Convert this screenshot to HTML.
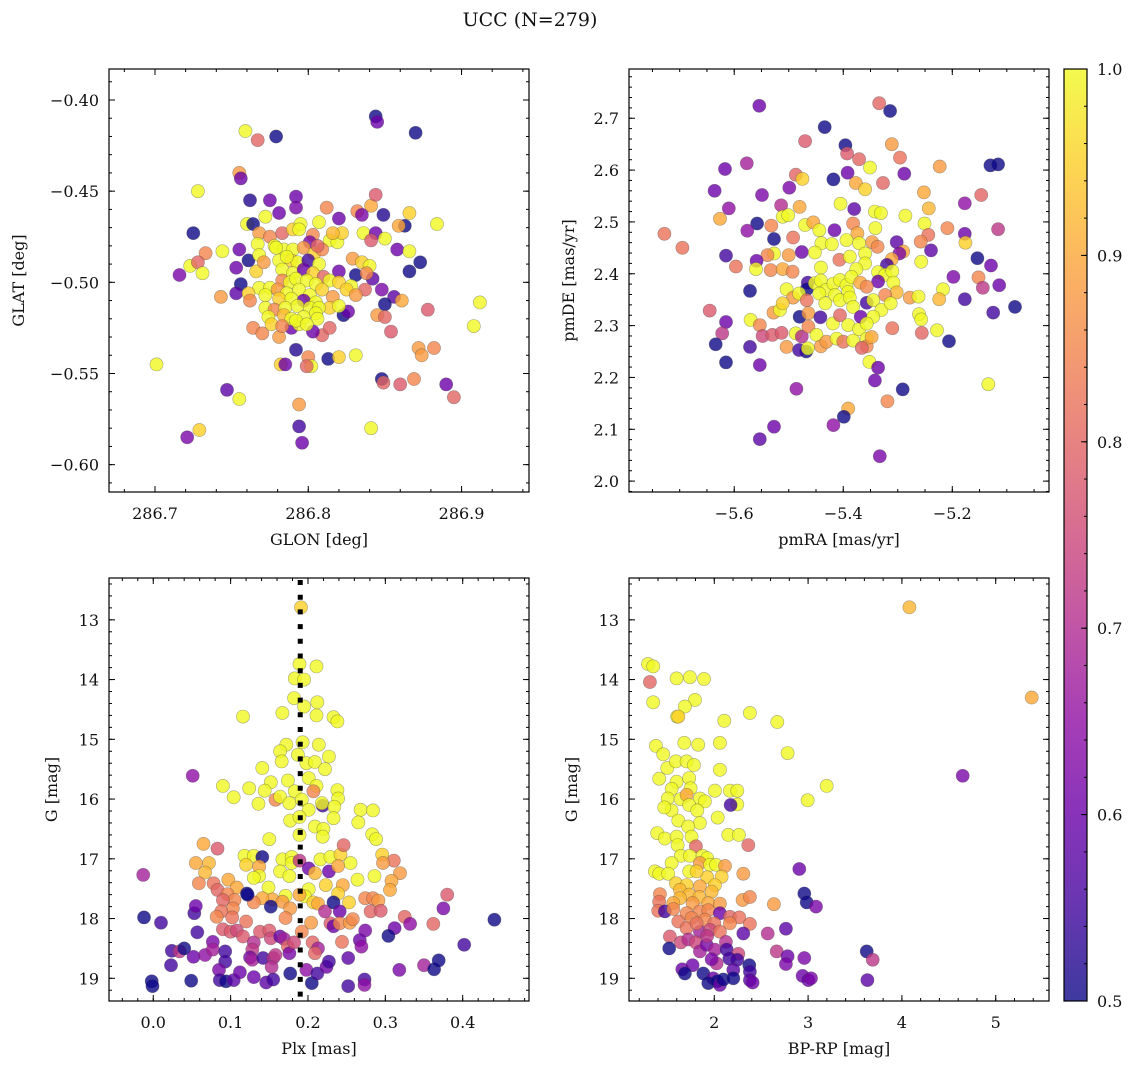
<!DOCTYPE html>
<html><head><meta charset="utf-8">
<style>
html,body{margin:0;padding:0;background:#fff;}
svg{display:block;font-family:"DejaVu Serif","Liberation Serif",serif;}
</style></head>
<body>
<svg id="chart" width="1136" height="1068" viewBox="0 0 1136 1068" xmlns="http://www.w3.org/2000/svg">
<rect width="1136" height="1068" fill="#fff"/>
<text x="530" y="26" font-size="19" text-anchor="middle" fill="#111">UCC (N=279)</text>
</svg>
<script>
// ---------- Panel 1 data: GLON / GLAT ----------
const p1Glon = [286.844,286.845,286.870,286.759,286.767,286.779,286.755,286.756,286.728,286.762,
286.775,286.792,286.792,286.781,286.772,286.812,286.832,286.841,286.835,286.844,
286.849,286.866,286.820,286.807,286.884,286.863,286.859,286.760,286.764,286.725,
286.836,286.844,286.841,286.850,286.733,286.744,286.755,286.761,286.858,286.866,
286.873,286.866,286.723,286.728,286.731,286.716,286.753,286.766,286.756,286.753,
286.743,286.831,286.842,286.848,286.837,286.856,286.861,286.850,286.912,286.878,
286.823,286.826,286.845,286.850,286.854,286.908,286.872,286.882,286.874,286.764,
286.770,286.781,286.792,286.800,286.802,286.799,286.782,286.785,286.813,286.820,
286.831,286.701,286.848,286.849,286.860,286.869,286.890,286.895,286.747,286.755,
286.794,286.794,286.796,286.841,286.721,286.729,286.809,286.803,286.814,286.789,286.794,
286.768,286.775,286.783,286.790,286.795,286.794,286.803,286.801,286.814,286.819,
286.822,286.816,286.767,286.778,286.784,286.790,286.797,286.804,286.809,286.768,
286.771,286.781,286.789,286.793,286.800,286.807,286.829,286.835,286.840,286.838,
286.820,286.783,286.790,286.797,286.803,286.810,286.814,286.820,286.828,286.783,
286.788,286.792,286.799,286.805,286.768,286.775,286.780,286.786,286.794,286.801,
286.809,286.816,286.825,286.831,286.761,286.762,286.772,286.781,286.789,286.797,
286.805,286.814,286.820,286.772,286.778,286.785,286.793,286.801,286.807,286.774,
286.784,286.789,286.797,286.805,286.806,286.776,286.792,286.799,286.783,286.779,
286.786,286.806];
const p1Glat = [-0.409,-0.412,-0.418,-0.417,-0.422,-0.420,-0.440,-0.443,-0.450,-0.455,
-0.455,-0.453,-0.459,-0.462,-0.464,-0.459,-0.461,-0.458,-0.463,-0.452,
-0.463,-0.462,-0.465,-0.467,-0.468,-0.469,-0.469,-0.468,-0.468,-0.473,
-0.473,-0.473,-0.477,-0.476,-0.484,-0.483,-0.482,-0.488,-0.482,-0.483,
-0.489,-0.494,-0.491,-0.489,-0.495,-0.496,-0.492,-0.494,-0.501,-0.506,
-0.508,-0.496,-0.498,-0.504,-0.504,-0.508,-0.510,-0.512,-0.511,-0.515,
-0.518,-0.516,-0.518,-0.519,-0.527,-0.524,-0.536,-0.536,-0.540,-0.525,
-0.528,-0.530,-0.537,-0.541,-0.546,-0.546,-0.545,-0.545,-0.542,-0.541,
-0.540,-0.545,-0.553,-0.555,-0.556,-0.553,-0.556,-0.563,-0.559,-0.564,
-0.567,-0.579,-0.588,-0.580,-0.585,-0.581,-0.529,-0.527,-0.525,-0.525,-0.523,
-0.473,-0.475,-0.473,-0.471,-0.468,-0.471,-0.474,-0.478,-0.477,-0.478,
-0.473,-0.473,-0.479,-0.480,-0.482,-0.482,-0.481,-0.484,-0.482,-0.485,
-0.489,-0.488,-0.488,-0.489,-0.488,-0.490,-0.487,-0.489,-0.491,-0.495,
-0.494,-0.493,-0.495,-0.493,-0.495,-0.497,-0.499,-0.500,-0.502,-0.499,
-0.500,-0.498,-0.499,-0.501,-0.503,-0.503,-0.504,-0.506,-0.504,-0.507,
-0.504,-0.508,-0.504,-0.507,-0.506,-0.510,-0.507,-0.509,-0.509,-0.510,
-0.511,-0.514,-0.513,-0.514,-0.515,-0.514,-0.513,-0.514,-0.514,-0.519,
-0.518,-0.520,-0.519,-0.517,-0.520,-0.523,-0.521,-0.523,-0.524,-0.481,
-0.486,-0.480];
const p1Prob = [.5,.6,.5,1,.8,.5,.88,.6,1,.52,
.6,.6,.62,.6,1,.85,.85,.9,.62,.78,
.52,.95,.6,1,1,.5,.9,1,.5,.5,
1,.6,.78,1,.85,1,.6,.5,.6,1,
.5,.5,1,.8,1,.62,.6,.95,.5,.58,
.88,.5,.58,.62,.8,.58,.9,.5,1,.78,
.5,.6,.88,.8,.78,1,.88,.85,.88,.85,
.85,.88,.52,.85,1,.8,.95,.6,.5,.95,
1,1,.5,.8,.78,.85,.6,.8,.58,1,
.88,.55,.6,1,.62,.95,.8,.6,.8,.6,1,
.88,.85,.8,.95,1,1,.85,.62,1,1,
.95,.92,1,1,1,1,.88,.95,.85,1,
.88,1,.95,1,.55,1,.88,.95,1,.85,
.6,1,1,.6,.95,.8,1,.95,1,.85,
1,1,1,1,1,1,.88,1,1,1,
.95,.88,.95,.88,.95,.85,1,.95,1,.6,
1,.95,1,1,.85,1,1,1,1,1,
.92,1,1,1,1,.95,1,1,.85,1,
1,.8];
const p1XTicks = [286.7,286.8,286.9];
const p1XTickLabels = ["286.7","286.8","286.9"];
const p1YTicks = [-0.40,-0.45,-0.50,-0.55,-0.60];
const p1YTickLabels = ["\u22120.40","\u22120.45","\u22120.50","\u22120.55","\u22120.60"];

// ---------- Panel 2 data: pmRA / pmDE ----------
const p2Pmra = [-5.554,-5.334,-5.314,-5.434,-5.470,-5.396,-5.393,-5.371,-5.311,-5.296,
-5.351,-5.223,-5.130,-5.116,-5.288,-5.392,-5.418,-5.487,-5.475,-5.377,
-5.360,-5.327,-5.617,-5.577,-5.636,-5.549,-5.499,-5.610,-5.626,-5.514,
-5.480,-5.405,-5.380,-5.342,-5.331,-5.252,-5.243,-5.286,-5.177,-5.147,
-5.116,-5.728,-5.695,-5.558,-5.576,-5.527,-5.532,-5.511,-5.501,-5.492,
-5.470,-5.455,-5.444,-5.416,-5.382,-5.374,-5.341,-5.251,-5.209,-5.244,
-5.258,-5.177,-5.176,-5.302,-5.347,-5.337,-5.440,-5.421,-5.394,-5.371,
-5.239,-5.290,-5.297,-5.615,-5.476,-5.452,-5.527,-5.500,-5.539,-5.559,
-5.597,-5.560,-5.533,-5.511,-5.493,-5.441,-5.407,-5.388,-5.360,-5.360,
-5.376,-5.311,-5.320,-5.257,-5.154,-5.129,-5.198,-5.152,-5.144,-5.114,
-5.336,-5.323,-5.310,-5.336,-5.308,-5.302,-5.323,-5.571,-5.465,-5.467,
-5.452,-5.441,-5.431,-5.418,-5.406,-5.394,-5.385,-5.391,-5.369,-5.357,
-5.504,-5.492,-5.481,-5.467,-5.444,-5.433,-5.415,-5.406,-5.388,-5.382,
-5.357,-5.345,-5.330,-5.313,-5.278,-5.262,-5.217,-5.224,-5.177,-5.125,
-5.085,-5.645,-5.615,-5.622,-5.634,-5.571,-5.615,-5.553,-5.570,-5.553,
-5.548,-5.530,-5.513,-5.528,-5.516,-5.511,-5.504,-5.487,-5.480,-5.468,
-5.481,-5.465,-5.476,-5.464,-5.464,-5.449,-5.442,-5.441,-5.431,-5.419,
-5.412,-5.406,-5.400,-5.391,-5.382,-5.371,-5.368,-5.357,-5.357,-5.348,
-5.345,-5.357,-5.366,-5.352,-5.336,-5.342,-5.310,-5.291,-5.261,-5.257,
-5.256,-5.228,-5.206,-5.134,-5.486,-5.391,-5.399,-5.319,-5.418,-5.527,
-5.553,-5.333];
const p2Pmde = [2.724,2.729,2.714,2.683,2.656,2.648,2.632,2.621,2.650,2.624,
2.605,2.607,2.609,2.611,2.593,2.595,2.582,2.591,2.583,2.575,
2.563,2.575,2.602,2.613,2.560,2.552,2.566,2.526,2.506,2.532,
2.529,2.535,2.525,2.520,2.517,2.557,2.526,2.512,2.536,2.552,
2.486,2.477,2.450,2.497,2.483,2.467,2.493,2.510,2.513,2.470,
2.494,2.499,2.484,2.484,2.497,2.478,2.488,2.497,2.488,2.475,
2.462,2.477,2.460,2.461,2.461,2.452,2.459,2.457,2.465,2.459,
2.445,2.443,2.439,2.435,2.442,2.441,2.439,2.436,2.436,2.425,
2.414,2.409,2.407,2.409,2.404,2.412,2.427,2.433,2.439,2.420,
2.409,2.428,2.417,2.423,2.430,2.416,2.394,2.393,2.373,2.378,
2.403,2.398,2.405,2.385,2.383,2.364,2.359,2.367,2.383,2.370,
2.382,2.387,2.369,2.381,2.388,2.378,2.394,2.365,2.383,2.375,
2.370,2.354,2.362,2.349,2.362,2.343,2.359,2.349,2.354,2.336,
2.344,2.349,2.330,2.343,2.354,2.356,2.370,2.351,2.351,2.325,
2.336,2.329,2.307,2.285,2.264,2.259,2.229,2.224,2.311,2.301,
2.280,2.282,2.286,2.325,2.330,2.343,2.259,2.285,2.317,2.250,
2.253,2.256,2.279,2.324,2.298,2.282,2.316,2.260,2.269,2.304,
2.275,2.320,2.269,2.301,2.271,2.293,2.317,2.275,2.260,2.278,
2.317,2.304,2.257,2.230,2.219,2.194,2.295,2.177,2.322,2.312,
2.286,2.291,2.270,2.187,2.178,2.140,2.124,2.154,2.108,2.105,
2.081,2.048];
const p2Prob = [.6,.8,.5,.5,.78,.5,.78,.8,.88,.82,
1,.88,.5,.5,.6,.6,.5,.8,.95,.9,
.95,.8,.6,.68,.6,.62,.62,.65,.9,.7,
.9,1,.58,1,1,.9,.92,1,.65,.8,
.72,.82,.82,.5,.65,.5,.85,1,1,.82,
1,.9,1,.6,.85,.9,1,1,.85,.82,
.85,.6,.95,.58,.88,.85,1,1,1,1,
.58,.9,.62,.55,.6,1,1,.88,.85,.6,
.82,1,.85,.9,.85,1,.82,1,1,1,
1,.9,.55,1,.5,.6,.62,.85,.72,.6,
1,1,1,.6,1,.92,.85,.5,.55,.5,
1,1,1,1,1,1,1,1,.9,.85,
1,.88,1,.82,1,1,1,1,1,1,
.55,1,1,1,.88,1,1,.92,.55,.55,
.5,.78,.6,.72,.5,.55,.5,.6,1,.85,
.75,.78,.78,.88,1,.95,.88,1,.5,.5,
.55,1,.7,.88,.85,1,.55,.88,.88,1,
1,.8,.82,1,1,1,.6,1,.85,.9,
1,1,.8,1,.6,.6,.82,.5,1,1,
.8,1,.5,1,.65,.9,.5,.85,.65,.6,
.58,.62];
const p2XTicks = [-5.6,-5.4,-5.2];
const p2XTickLabels = ["\u22125.6","\u22125.4","\u22125.2"];
const p2YTicks = [2.0,2.1,2.2,2.3,2.4,2.5,2.6,2.7];
const p2YTickLabels = ["2.0","2.1","2.2","2.3","2.4","2.5","2.6","2.7"];

// ---------- Panel 3 data: Plx / G ----------
const p3Plx = [.191,.189,.211,.183,.195,.182,.195,.212,.211,.167,
.116,.233,.238,.172,.164,.193,.214,.166,.187,.198,
.209,.227,.222,.141,.051,.090,.104,.124,.152,.144,
.174,.201,.211,.136,.158,.164,.183,.176,.192,.201,
.207,.219,.218,.238,.239,.234,.233,.268,.284,.265,
.177,.189,.209,.220,.219,.189,.150,.283,.288,.065,
.083,.055,.072,.067,.059,.118,.130,.120,.141,.137,
.137,.130,.167,.179,.179,.189,.164,.176,.201,.209,
.216,.229,.242,.246,.255,.227,.239,.264,.245,.223,
.296,.311,.297,.319,.286,.308,.306,.149,.201,.196,
.207,.171,.189,.154,.141,.130,.167,.177,.213,.239,
.253,.274,.284,.291,.078,.083,.097,.108,.096,.105,
.121,.090,.103,.088,.082,.102,.120,.152,.171,.192,
.204,.222,.233,.241,.229,.233,.241,.254,.258,.281,
.294,.325,.332,.362,.380,.375,.441,.402,.312,.304,
.274,.267,.269,.244,.252,.273,.273,.252,.318,.350,
.363,.369,-.013,-.012,.010,-.002,-.001,.023,.024,.034,
.040,.052,.049,.057,.053,.055,.067,.077,.077,.093,
.093,.085,.086,.094,.104,.112,.090,.100,.108,.116,
.130,.128,.125,.128,.138,.150,.152,.142,.155,.153,
.158,.164,.169,.174,.176,.182,.177,.130,.146,.155,
.198,.205,.212,.206,.213,.209,.224,.227,.122];
const p3G = [12.79,13.74,13.78,13.98,14.00,14.31,14.45,14.38,14.60,14.56,
14.62,14.63,14.70,15.09,15.20,15.05,15.09,15.37,15.26,15.40,
15.38,15.29,15.50,15.48,15.61,15.78,15.97,15.82,15.72,15.86,
15.69,15.65,15.78,16.08,16.01,15.96,15.87,16.07,16.01,16.18,
15.87,16.11,16.07,15.85,15.99,16.13,16.32,16.18,16.19,16.39,
16.36,16.30,16.46,16.50,16.63,16.60,16.67,16.59,16.67,16.75,
16.83,17.07,17.07,17.23,17.41,16.95,16.95,17.10,16.97,17.13,
17.29,17.32,17.01,16.97,17.07,17.03,17.21,17.29,17.16,17.24,
17.01,16.97,16.93,16.77,17.07,17.21,17.12,17.35,17.44,17.44,
16.93,17.03,17.07,17.24,17.29,17.37,17.52,17.48,17.51,17.63,
17.73,17.62,17.60,17.68,17.66,17.73,17.72,17.83,17.75,17.58,
17.73,17.66,17.66,17.70,17.41,17.52,17.35,17.48,17.59,17.69,
17.58,17.69,17.83,17.88,17.97,17.98,18.05,17.80,17.99,18.22,
18.07,17.88,17.73,17.88,18.08,18.13,18.08,18.07,18.01,17.88,
17.87,17.97,18.09,18.09,17.60,17.83,18.02,18.44,18.16,18.29,
18.20,18.36,18.47,18.39,18.66,19.02,19.11,19.13,18.86,18.78,
18.85,18.70,17.27,17.98,18.07,19.05,19.13,18.78,18.54,18.55,
18.50,18.64,19.04,18.23,17.91,17.79,18.61,18.39,18.52,18.55,
18.72,18.86,19.03,19.05,19.03,18.90,18.18,18.22,18.20,18.30,
18.40,18.52,18.65,18.69,18.22,18.20,18.33,18.66,18.66,18.81,
18.61,18.30,18.34,18.47,18.58,18.40,18.92,18.98,19.07,19.02,
18.86,19.08,18.92,18.40,18.50,18.58,18.81,18.72,17.60];
const p3Prob = [.95,1,1,1,1,1,1,1,1,1,
1,1,1,1,1,1,1,1,1,1,
1,1,1,1,.65,1,1,1,1,1,
1,1,1,1,.85,1,1,1,1,1,
.85,.55,1,1,1,1,1,1,1,1,
1,1,1,1,1,1,1,1,1,.9,
.78,.9,.92,.92,.85,1,1,.95,.5,.9,
1,1,1,1,1,.72,1,1,.6,.92,
1,1,.95,.8,1,.6,.9,1,.9,.95,
.95,.82,.88,.88,1,.9,.9,1,1,1,
.95,1,.9,.9,.9,.85,.88,.88,.9,.95,
.95,.85,.85,.88,.82,.8,.9,.9,.85,.85,
.5,.8,.85,.82,.85,.82,.82,.5,.85,.85,
.88,.7,.5,.6,.78,.6,.85,.88,.85,.8,
.78,.8,.65,.8,.78,.62,.5,.55,.6,.5,
.62,.6,.65,.82,.58,.55,.65,.55,.62,.68,
.5,.5,.68,.5,.55,.45,.5,.55,.55,.72,
.5,.6,.5,.55,.55,.6,.65,.62,.68,.55,
.55,.62,.55,.5,.58,.6,.78,.78,.75,.78,
.7,.72,.62,.68,.78,.78,.75,.55,.7,.7,
.72,.6,.68,.8,.62,.75,.5,.6,.58,.55,
.65,.5,.55,.8,.68,.8,.6,.55,.5];
const p3XTicks = [0.0,0.1,0.2,0.3,0.4];
const p3XTickLabels = ["0.0","0.1","0.2","0.3","0.4"];
const p3YTicks = [13,14,15,16,17,18,19];
const p3YTickLabels = ["13","14","15","16","17","18","19"];
const p3PlxMedian = [0.19];

// ---------- Panel 4 data: BP-RP / G ----------
const p4Bprp = [4.080,5.384,4.648,3.198,2.995,2.782,2.672,2.380,2.107,2.060,
2.060,2.007,2.036,2.167,2.245,2.245,2.174,2.149,2.263,2.363,
1.293,1.349,1.314,1.598,1.740,1.890,1.349,1.794,1.687,1.605,
1.616,1.378,1.456,1.499,1.591,1.680,1.829,1.705,1.783,1.413,
1.598,1.733,1.545,1.748,1.503,1.641,1.705,1.847,1.900,1.733,
1.819,1.545,1.467,1.616,1.847,1.722,1.758,1.392,1.474,1.598,
1.609,1.804,1.644,1.740,1.875,1.925,1.847,1.545,1.367,1.413,
1.733,1.954,2.018,2.114,2.078,1.925,1.812,1.509,1.591,1.705,
1.634,1.847,2.007,1.972,1.733,1.840,1.634,1.563,1.769,1.936,
2.060,1.420,1.413,1.402,1.474,1.563,1.705,1.847,1.936,2.060,
2.167,2.267,2.167,1.758,1.900,2.000,1.616,1.705,1.847,1.954,
2.060,2.380,2.309,2.302,2.380,2.636,2.309,2.906,2.960,2.985,
3.084,2.569,2.764,2.665,2.782,2.764,2.960,2.942,3.002,3.031,
3.625,3.689,3.632,1.527,1.520,1.644,1.723,1.804,1.847,1.918,
2.007,2.124,2.132,2.256,2.245,2.160,2.025,1.972,1.769,1.659,
1.687,1.883,1.989,1.936,2.032,2.060,2.096,2.203,2.203,2.373,
2.380,2.380,2.409,1.925,1.812];
const p4G = [12.79,14.30,15.61,15.78,16.02,15.23,14.71,14.56,14.69,15.06,
15.51,15.86,16.31,15.86,15.86,16.09,16.10,16.60,16.60,16.77,
13.74,13.78,14.04,13.98,13.96,13.99,14.38,14.34,14.45,14.62,
14.62,15.11,15.25,15.48,15.37,15.06,15.09,15.37,15.43,15.66,
15.71,15.65,15.83,15.82,15.99,16.00,15.93,15.99,16.04,16.10,
16.19,16.19,16.14,16.36,16.40,16.46,16.63,16.57,16.66,16.63,
16.77,16.79,16.95,16.95,16.95,16.99,17.07,17.07,17.21,17.25,
17.21,17.10,17.10,17.12,17.30,17.31,17.21,17.25,17.41,17.44,
17.52,17.46,17.44,17.55,17.60,17.64,17.66,17.74,17.74,17.74,
17.75,17.59,17.72,17.87,17.88,17.84,17.91,17.88,17.86,17.91,
17.97,17.98,18.08,17.99,18.02,18.08,18.05,18.16,18.22,18.19,
18.22,18.09,18.25,17.69,17.64,17.76,17.25,17.17,17.58,17.73,
17.80,18.25,18.17,18.55,18.63,18.76,18.66,18.96,19.03,19.00,
18.55,18.69,19.03,18.30,18.50,18.40,18.35,18.40,18.55,18.44,
18.52,18.39,18.52,18.59,18.69,18.67,18.75,18.68,18.78,18.85,
18.92,18.92,19.00,19.08,19.05,19.11,19.02,18.86,19.00,18.78,
18.89,19.03,19.07,18.29,18.08];
const p4Prob = [.92,.9,.62,1,1,1,1,1,1,1,
1,1,1,1,1,1,.55,1,1,.8,
1,1,.8,1,1,1,1,1,1,1,
.95,1,1,1,1,1,1,1,1,1,
1,1,1,1,1,1,.9,1,1,1,
1,1,1,1,1,1,1,1,1,1,
1,.8,1,1,1,1,.88,1,1,1,
1,1,1,.88,.95,.95,.95,1,.95,.95,
.92,.9,.95,.92,.92,.92,.92,.9,.88,.9,
.88,.85,.82,.82,.55,.85,.85,.85,.85,.6,
.8,.82,.85,.85,.85,.82,.82,.82,.68,.75,
.82,.82,.58,.88,.85,.88,.88,.6,.5,.5,
.62,.7,.58,.72,.6,.62,.62,.6,.6,.62,
.5,.72,.58,.78,.5,.75,.7,.75,.68,.62,
.68,.7,.55,.75,.55,.55,.7,.62,.6,.6,
.5,.5,.6,.5,.5,.6,.5,.58,.5,.5,
.55,.58,.6,.72,.82];
const p4XTicks = [2,3,4,5];
const p4XTickLabels = ["2","3","4","5"];
const p4YTicks = [13,14,15,16,17,18,19];
const p4YTickLabels = ["13","14","15","16","17","18","19"];

// ---------- Colorbar ----------
const cbTicks = [0.5,0.6,0.7,0.8,0.9,1.0];
const cbTickLabels = ["0.5","0.6","0.7","0.8","0.9","1.0"];

const NS = "http://www.w3.org/2000/svg";
const svg = document.getElementById("chart");
const PLASMA = ["#0d0887","#41049d","#6a00a8","#8f0da4","#b12a90","#cc4778","#e16462","#f2844b","#fca636","#fcce25","#f0f921"];
function hex(c){return [parseInt(c.slice(1,3),16),parseInt(c.slice(3,5),16),parseInt(c.slice(5,7),16)];}
function plasma(t){
  t=Math.max(0,Math.min(1,t));
  const f=t*10, i=Math.min(9,Math.floor(f)), r=f-i;
  const a=hex(PLASMA[i]), b=hex(PLASMA[i+1]);
  return "rgb("+a.map((v,k)=>Math.round(v+(b[k]-v)*r)).join(",")+")";
}
function probColor(p){return plasma((p-0.5)/0.5);}
function el(tag, attrs, parent){
  const e=document.createElementNS(NS,tag);
  for(const k in attrs) e.setAttribute(k,attrs[k]);
  (parent||svg).appendChild(e);
  return e;
}

function panel(o){
  const g=el("g",{});
  
  
  const sx=v=>o.x0+(v-o.xmin)/(o.xmax-o.xmin)*o.w;
  const sy=o.invert ? (v=>o.y0+(v-o.ymin)/(o.ymax-o.ymin)*o.h)
                    : (v=>o.y0+(o.ymax-v)/(o.ymax-o.ymin)*o.h);
  const n=Math.min(o.xs.length,o.ys.length,o.ps.length);
  const pts=el("g",{},g);
  
  
  for(let i=0;i<n;i++){
    const c=el("circle",{cx:sx(o.xs[i]).toFixed(1),cy:sy(o.ys[i]).toFixed(1),r:6.6,fill:probColor(o.ps[i]),"fill-opacity":0.8,stroke:"#444","stroke-opacity":0.45,"stroke-width":0.6},pts);
    
    
  }
  if(o.vline){
    for(const v of o.vline){
      const l=el("line",{x1:sx(v),x2:sx(v),y1:o.y0+2,y2:o.y0+o.h,stroke:"#000","stroke-width":5,"stroke-dasharray":"5 9.7"},g);
      
      
    }
  }
  // ticks
  const tk=el("g",{stroke:"#000","stroke-width":1},g);
  
  
  const xMinS=o.xmin, xMaxS=o.xmax;
  for(let v=Math.ceil(xMinS/o.xminor-1e-6)*o.xminor; v<=xMaxS+1e-9; v+=o.xminor){
    const x=sx(v);
    el("line",{x1:x,x2:x,y1:o.y0+o.h,y2:o.y0+o.h-3},tk);
    el("line",{x1:x,x2:x,y1:o.y0,y2:o.y0+3},tk);
  }
  const ylo=Math.min(o.ymin,o.ymax), yhi=Math.max(o.ymin,o.ymax);
  for(let v=Math.ceil(ylo/o.yminor-1e-6)*o.yminor; v<=yhi+1e-9; v+=o.yminor){
    const y=sy(v);
    el("line",{x1:o.x0,x2:o.x0+3,y1:y,y2:y},tk);
    el("line",{x1:o.x0+o.w,x2:o.x0+o.w-3,y1:y,y2:y},tk);
  }
  o.xt.forEach((v,i)=>{
    const x=sx(v);
    el("line",{x1:x,x2:x,y1:o.y0+o.h,y2:o.y0+o.h-6},tk);
    el("line",{x1:x,x2:x,y1:o.y0,y2:o.y0+6},tk);
    const t=el("text",{x:x,y:o.y0+o.h+27,"font-size":16,"text-anchor":"middle",fill:"#111"},g);
    t.textContent=o.xl[i];
    
    
  });
  o.yt.forEach((v,i)=>{
    const y=sy(v);
    el("line",{x1:o.x0,x2:o.x0+6,y1:y,y2:y},tk);
    el("line",{x1:o.x0+o.w,x2:o.x0+o.w-6,y1:y,y2:y},tk);
    const t=el("text",{x:o.x0-10,y:y+6,"font-size":16,"text-anchor":"end",fill:"#111"},g);
    t.textContent=o.yl[i];
    
    
  });
  const fr=el("rect",{x:o.x0,y:o.y0,width:o.w,height:o.h,fill:"none",stroke:"#000","stroke-width":1.2},g);
  
  
  const xl=el("text",{x:o.x0+o.w/2,y:o.y0+o.h+53,"font-size":16,"text-anchor":"middle",fill:"#111"},g);
  xl.textContent=o.xlabel;
  
  
  const yx=o.ylabx, yy=o.y0+o.h/2;
  const yl=el("text",{x:yx,y:yy,"font-size":16,"text-anchor":"middle",fill:"#111",transform:"rotate(-90 "+yx+" "+yy+")"},g);
  yl.textContent=o.ylabel;
  
  
}

panel({name:"glon-glat-panel",x0:109,y0:69,w:420,h:423,xmin:286.670,xmax:286.944,ymin:-0.615,ymax:-0.383,
  xs:p1Glon,ys:p1Glat,ps:p1Prob,xt:p1XTicks,xl:p1XTickLabels,yt:p1YTicks,yl:p1YTickLabels,xminor:0.02,yminor:0.01,
  xlabel:"GLON [deg]",ylabel:"GLAT [deg]",ylabx:24});
panel({name:"pm-panel",x0:629,y0:69,w:420,h:423,xmin:-5.793,xmax:-5.0226,ymin:1.979,ymax:2.795,
  xs:p2Pmra,ys:p2Pmde,ps:p2Prob,xt:p2XTicks,xl:p2XTickLabels,yt:p2YTicks,yl:p2YTickLabels,xminor:0.05,yminor:0.02,
  xlabel:"pmRA [mas/yr]",ylabel:"pmDE [mas/yr]",ylabx:574});
panel({name:"plx-g-panel",x0:109,y0:578,w:420,h:423,xmin:-0.0572,xmax:0.4857,ymin:12.30,ymax:19.38,invert:true,
  xs:p3Plx,ys:p3G,ps:p3Prob,xt:p3XTicks,xl:p3XTickLabels,yt:p3YTicks,yl:p3YTickLabels,xminor:0.02,yminor:0.2,
  xlabel:"Plx [mas]",ylabel:"G [mag]",ylabx:57,vline:p3PlxMedian});
panel({name:"cmd-panel",x0:629,y0:578,w:420,h:423,xmin:1.091,xmax:5.568,ymin:12.30,ymax:19.38,invert:true,
  xs:p4Bprp,ys:p4G,ps:p4Prob,xt:p4XTicks,xl:p4XTickLabels,yt:p4YTicks,yl:p4YTickLabels,xminor:0.2,yminor:0.2,
  xlabel:"BP-RP [mag]",ylabel:"G [mag]",ylabx:577});

// colorbar
(function(){
  const x0=1064,y0=69,w=23,h=932,vmin=0.5,vmax=1.0;
  const sy=v=>y0+(vmax-v)/(vmax-vmin)*h;
  const defs=el("defs",{});
  const lg=el("linearGradient",{id:"cbg",x1:0,y1:1,x2:0,y2:0},defs);
  for(let i=0;i<=20;i++){el("stop",{offset:(i/20),"stop-color":plasma(i/20)},lg);}
  const g=el("g",{});
  
  
  el("rect",{x:x0,y:y0,width:w,height:h,fill:"url(#cbg)","fill-opacity":0.8},g);
  for(let v=vmin; v<=vmax+1e-9; v+=0.02){
    const y=sy(v); el("line",{x1:x0+w,x2:x0+w-3,y1:y,y2:y,stroke:"#000","stroke-width":1},g);
  }
  cbTicks.forEach((v,i)=>{
    const y=sy(v);
    el("line",{x1:x0+w,x2:x0+w-6,y1:y,y2:y,stroke:"#000","stroke-width":1},g);
    const t=el("text",{x:x0+w+10,y:y+6,"font-size":16,fill:"#111"},g);
    t.textContent=cbTickLabels[i];
    
    
  });
  el("rect",{x:x0,y:y0,width:w,height:h,fill:"none",stroke:"#000","stroke-width":1.2},g);
})();
</script>
</body></html>
